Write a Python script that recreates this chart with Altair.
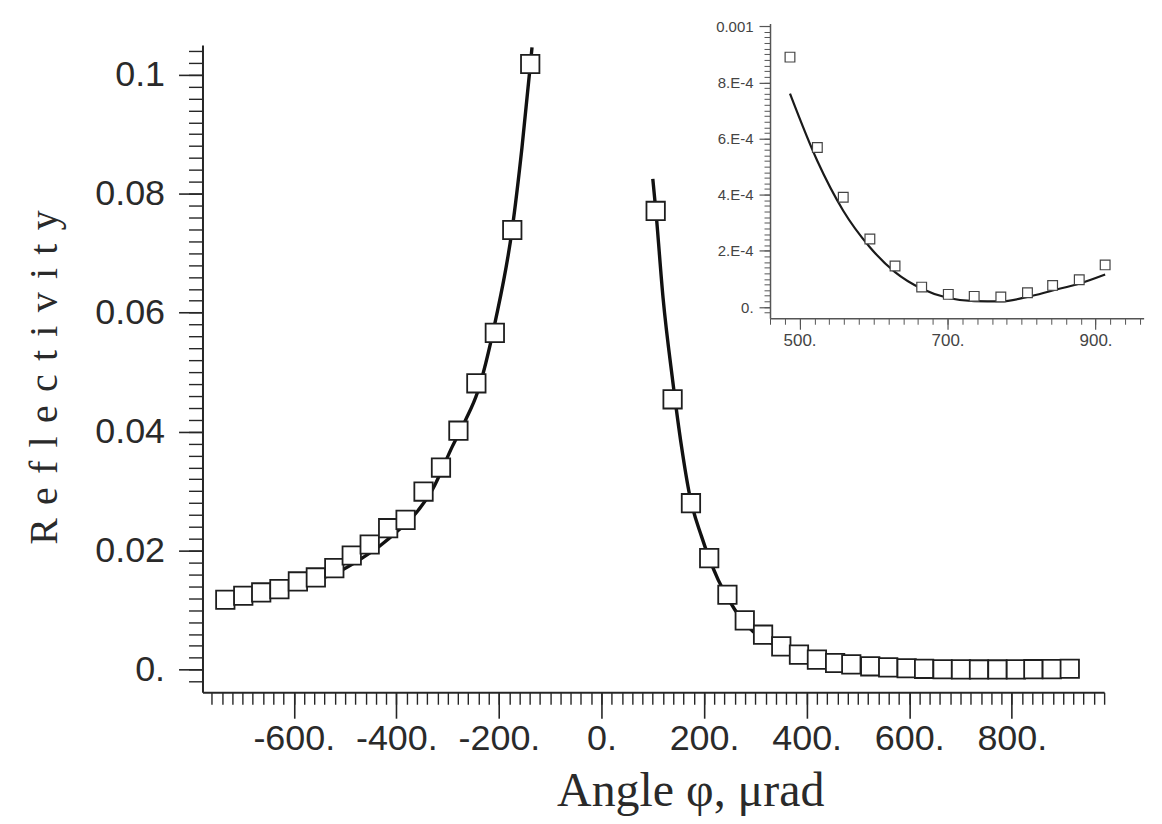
import altair as alt
import pandas as pd

# ---------------- data ----------------
# main chart: measured squares, left branch
left_x = [-733.5, -698.5, -663.5, -628, -592, -557, -521, -487, -452, -416,
          -382, -347, -313, -279, -244, -208, -174, -139]
left_y = [0.01175, 0.01242, 0.01298, 0.01354, 0.01483, 0.0155, 0.01707, 0.01919,
          0.02104, 0.02378, 0.02518, 0.02994, 0.03397, 0.04017, 0.04813, 0.0566,
          0.0739, 0.1018]
# main chart: measured squares, right branch (up to 455; the rest = inset data)
right_x = [105.6, 138.6, 174.4, 210, 245.5, 279.3, 315, 350.5, 385, 420, 455.5]
right_y = [0.0771, 0.04544, 0.02798, 0.01875, 0.01259, 0.00828, 0.00588,
           0.00391, 0.00252, 0.00168, 0.00112]

# main chart: calculated curve
curve_left_x = [-735, -700, -665, -630, -595, -560, -525, -505, -472, -433.5,
                -395, -362, -330, -291, -265, -242.4, -206.6, -174.4, -155,
                -138.6, -135.5]
curve_left_y = [0.0115, 0.0121, 0.0127, 0.0134, 0.0142, 0.0150, 0.0160, 0.01679,
                0.01847, 0.0207, 0.0235, 0.0263, 0.0302, 0.03749, 0.04197,
                0.04645, 0.05875, 0.0739, 0.0878, 0.1018, 0.1046]
curve_right_x = [100, 105.6, 120, 138.6, 156, 172.4, 195, 227.5, 260, 295.5,
                 331, 350, 385, 420, 455]
curve_right_y = [0.0825, 0.0775, 0.0625, 0.0487, 0.0375, 0.0291, 0.0224, 0.0151,
                 0.01007, 0.00643, 0.00448, 0.0037, 0.0024, 0.0016, 0.0010]

# inset (also the tail of the main right branch)
inset_x = [487, 524, 559, 595, 629, 665, 701, 736, 772, 808, 842, 878, 913]
inset_y = [8.9e-4, 5.68e-4, 3.91e-4, 2.42e-4, 1.46e-4, 0.71e-4, 0.45e-4,
           0.38e-4, 0.36e-4, 0.51e-4, 0.77e-4, 0.97e-4, 1.5e-4]
inset_curve_x = [487, 524, 559, 595, 629, 665, 701, 736, 772, 808, 842, 877.5, 913]
inset_curve_y = [7.6e-4, 5.2e-4, 3.43e-4, 2.13e-4, 1.24e-4, 0.65e-4, 0.32e-4,
                 0.21e-4, 0.20e-4, 0.36e-4, 0.59e-4, 0.83e-4, 1.16e-4]

# tick values / labels
x_major = [-600, -400, -200, 0, 200, 400, 600, 800]
y_major = [0, 0.02, 0.04, 0.06, 0.08, 0.1]
inset_x_major = [500, 700, 900]
inset_y_major = [0, 2e-4, 4e-4, 6e-4, 8e-4, 1e-3]
x_minor = [v for v in range(-760, 981, 20)]
y_minor = [round(-0.002 + 0.002 * i, 4) for i in range(54)]
inset_x_minor = [v for v in range(460, 961, 20)]
inset_y_minor = [round(-2e-5 + 2e-5 * i, 6) for i in range(53)]

# ---------------- tables ----------------
pts = pd.DataFrame({"x": left_x + right_x + inset_x,
                    "y": left_y + right_y + inset_y})
curve = pd.DataFrame({
    "x": curve_left_x + curve_right_x + inset_curve_x,
    "y": curve_left_y + curve_right_y + inset_curve_y,
    "branch": ["L"] * len(curve_left_x) + ["R"] * (len(curve_right_x) + len(inset_curve_x)),
})
ipts = pd.DataFrame({"x": inset_x, "y": inset_y})
icurve = pd.DataFrame({"x": inset_curve_x, "y": inset_curve_y})

# ---------------- geometry ----------------
W, H = 904, 649
XDOM = [-778, 980]
YDOM = [-0.0038, 0.105]
IX_DOM = [460, 965]
IY_DOM = [-4e-5, 1.01e-3]
IX_RANGE = [569, 943.6]
IY_RANGE = [274, -21.6]

AX = "#262626"
LBL = "#2a2a2a"
SANS = "Liberation Sans"
SERIF = "Liberation Serif"
SP = "\u2004"
YTITLE = SP.join(list("Reflectivity"))

xs = alt.Scale(domain=XDOM, nice=False, zero=False)
ys = alt.Scale(domain=YDOM, nice=False, zero=False)
ixs = alt.Scale(domain=IX_DOM, range=IX_RANGE, nice=False, zero=False)
iys = alt.Scale(domain=IY_DOM, range=IY_RANGE, nice=False, zero=False)

x_major_axis = alt.Axis(
    orient="bottom", values=x_major, grid=False, tickSize=26, tickWidth=1.6,
    tickColor=AX, domainColor=AX, domainWidth=2,
    labelExpr="(datum.value < 0 ? '-' : '') + format(abs(datum.value), 'd') + '.'",
    labelFont=SANS, labelFontSize=36, labelColor=LBL, labelPadding=3,
    labelFlush=False, labelOverlap=False,
    title="Angle φ, μrad", titleFont=SERIF, titleFontSize=48,
    titleFontWeight="normal", titleColor=LBL, titleX=489, titleY=100,
    titleAlign="center", titleBaseline="middle",
)
x_minor_axis = alt.Axis(
    orient="bottom", values=x_minor, grid=False, tickSize=12, tickWidth=1.4,
    tickColor=AX, domain=False, labels=False, title=None,
)
y_major_axis = alt.Axis(
    orient="left", values=y_major, grid=False, tickSize=24, tickWidth=1.6,
    tickColor=AX, domainColor=AX, domainWidth=2,
    labelExpr="datum.value == 0 ? '0.' : format(datum.value, '.2~f')",
    labelFont=SANS, labelFontSize=36, labelColor=LBL, labelPadding=14,
    labelFlush=False, labelOverlap=False,
    title=YTITLE,
    titleFont=SERIF, titleFontSize=40, titleFontWeight="normal", titleColor=LBL,
    titleAngle=270, titleX=-158, titleY=333, titleAlign="center",
    titleBaseline="middle",
)
y_minor_axis = alt.Axis(
    orient="left", values=y_minor, grid=False, tickSize=14, tickWidth=1.4,
    tickColor=AX, domain=False, labels=False, title=None,
)

IAX = "#555555"
ILBL = "#444444"
ix_major_axis = alt.Axis(
    orient="bottom", offset=-(H - 274), values=inset_x_major, grid=False,
    tickSize=11, tickWidth=1.2, tickColor=IAX, domainColor=IAX, domainWidth=1.5,
    labelExpr="format(datum.value, 'd') + '.'", labelFont=SANS, labelFontSize=17,
    labelColor=ILBL, labelPadding=3, labelFlush=False, labelOverlap=False,
    title=None,
)
ix_minor_axis = alt.Axis(
    orient="bottom", offset=-(H - 274), values=inset_x_minor, grid=False,
    tickSize=6, tickWidth=1, tickColor=IAX, domain=False, labels=False, title=None,
)
iy_major_axis = alt.Axis(
    orient="left", offset=-569, values=inset_y_major, grid=False,
    tickSize=11, tickWidth=1.2, tickColor=IAX, domainColor=IAX, domainWidth=1.5,
    labelExpr="datum.value == 0 ? '0.' : (datum.value > 0.00095 ? '0.001' : format(datum.value * 10000, 'd') + '.E-4')",
    labelFont=SANS, labelFontSize=15, labelColor=ILBL, labelPadding=6,
    labelFlush=False, labelOverlap=False, title=None,
)
iy_minor_axis = alt.Axis(
    orient="left", offset=-569, values=inset_y_minor, grid=False,
    tickSize=6, tickWidth=1, tickColor=IAX, domain=False, labels=False, title=None,
)

# ---------------- layers ----------------
main_line = alt.Chart(curve).mark_line(
    color="#111111", strokeWidth=3.4, interpolate="monotone"
).encode(
    x=alt.X("x:Q", scale=xs, axis=x_minor_axis),
    y=alt.Y("y:Q", scale=ys, axis=y_minor_axis),
    detail="branch:N",
)
main_pts = alt.Chart(pts).mark_square(
    size=340, fill="white", stroke="#1e1e1e", strokeWidth=1.8, opacity=1
).encode(
    x=alt.X("x:Q", scale=xs, axis=x_major_axis),
    y=alt.Y("y:Q", scale=ys, axis=y_major_axis),
)
inset_line = alt.Chart(icurve).mark_line(
    color="#1a1a1a", strokeWidth=2.2, interpolate="monotone"
).encode(
    x=alt.X("x:Q", scale=ixs, axis=ix_minor_axis),
    y=alt.Y("y:Q", scale=iys, axis=iy_minor_axis),
)
inset_pts = alt.Chart(ipts).mark_square(
    size=95, fill="white", stroke="#444444", strokeWidth=1.2, opacity=1
).encode(
    x=alt.X("x:Q", scale=ixs, axis=ix_major_axis),
    y=alt.Y("y:Q", scale=iys, axis=iy_major_axis),
)

chart = alt.layer(main_line, main_pts, inset_line, inset_pts).resolve_scale(
    x="independent", y="independent"
).resolve_axis(
    x="independent", y="independent"
).properties(
    width=W, height=H,
    autosize=alt.AutoSizeParams(type="none"),
    padding={"left": 195, "top": 36, "right": 50, "bottom": 128},
    background="white",
).configure_view(strokeWidth=0)

chart.save("out.html", embed_options={"renderer": "svg", "actions": False})
